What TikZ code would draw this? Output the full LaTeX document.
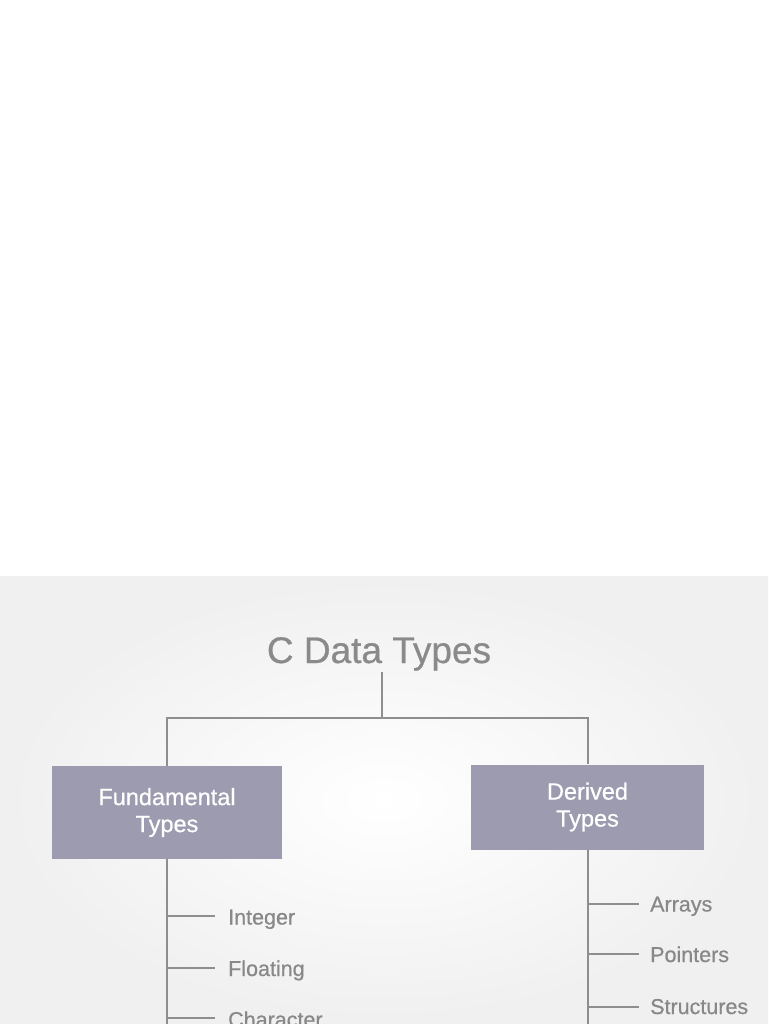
\documentclass[tikz,border=0pt]{standalone}
\usepackage{fontspec}
\setmainfont{Liberation Sans}[FakeBold=0.6]
\definecolor{boxc}{HTML}{9D9BB0}
\definecolor{linec}{HTML}{8E8E8E}
\definecolor{txtc}{HTML}{888888}
\definecolor{titlec}{HTML}{8A8A8A}
\begin{document}
\begin{tikzpicture}[x=1pt,y=-1pt,
  typebox/.style={fill=boxc, text=white, font=\fontsize{23.5}{27}\selectfont, align=center, inner sep=0pt},
  lbl/.style={text=txtc, font=\fontsize{21.5}{24}\selectfont, anchor=base west, inner sep=0pt},
  conn/.style={draw=linec, line width=2pt}]
\useasboundingbox (0,0) rectangle (768,1024);
\clip (0,0) rectangle (768,1024);
\fill[white] (0,0) rectangle (768,576);
\shade[inner color=white, outer color=black!6] (0,576) rectangle (768,1024);

\node[font=\fontsize{37}{40}\selectfont, text=titlec, anchor=base, inner sep=0pt] (title) at (379,663) {C Data Types};

\node[typebox, minimum width=230pt, minimum height=93pt] (fund) at (167,812.5) {Fundamental\\Types};
\node[typebox, minimum width=233pt, minimum height=85pt] (der) at (587.5,807) {Derived\\Types};

\coordinate (j) at (382,718);
\draw[conn] (j) -- (j |- 0,672);
\draw[conn] (fund.north) |- (j) -| (der.north);

% fundamental branch
\draw[conn] (fund.south) -- ++(0,200);
\coordinate (b1) at (215,916);
\coordinate (b2) at (215,967.5);
\coordinate (b3) at (215,1018);
\node[lbl] (int) at (228,924.5) {Integer};
\node[lbl] (flt) at (228,976) {Floating};
\node[lbl] (chr) at (228,1027) {Character};
\draw[conn] (fund.south |- b1) -- (b1);
\draw[conn] (fund.south |- b2) -- (b2);
\draw[conn] (fund.south |- b3) -- (b3);

% derived branch
\draw[conn] (der.south) -- ++(0,200);
\coordinate (r1) at (639,903.5);
\coordinate (r2) at (639,954);
\coordinate (r3) at (639,1006.5);
\node[lbl] (arr) at (650,911.5) {Arrays};
\node[lbl] (ptr) at (650,962) {Pointers};
\node[lbl] (str) at (650,1014) {Structures};
\draw[conn] (der.south |- r1) -- (r1);
\draw[conn] (der.south |- r2) -- (r2);
\draw[conn] (der.south |- r3) -- (r3);
\end{tikzpicture}
\end{document}
